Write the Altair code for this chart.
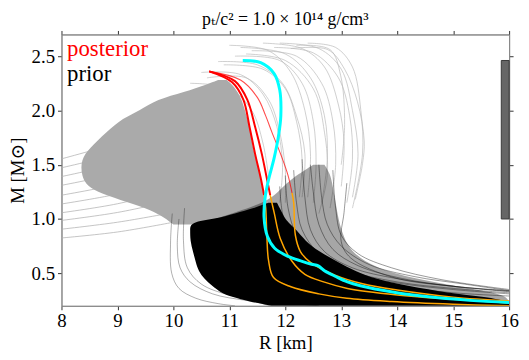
import altair as alt
import pandas as pd

FONT = "Liberation Serif, DejaVu Serif, Times New Roman, serif"
X_DOMAIN = [8, 16]
Y_DOMAIN = [0.2, 2.7]
X_TICKS = [8, 9, 10, 11, 12, 13, 14, 15, 16]
Y_TICKS = [0.5, 1.0, 1.5, 2.0, 2.5]

TITLE = "pₜ/c² = 1.0 × 10¹⁴ g/cm³"
X_TITLE = "R [km]"
Y_TITLE = "M [M⊙]"
LEGEND_TEXT = ["posterior", "prior"]
LEGEND_COLOR = ["#ff0000", "#000000"]
LEGEND_R = [8.1, 8.1]
LEGEND_M = [2.5, 2.27]

# mass band marker on right edge
BAND_R = [15.86, 16.0]
BAND_M = [1.0, 2.46]

# ---- prior envelopes (mass, left radius, right radius) ----
GRAY_M = [0.95, 1.1, 1.25, 1.4, 1.55, 1.65, 1.8, 1.93, 2.0, 2.1, 2.17, 2.24, 2.28]
GRAY_L = [10.0, 9.6, 8.5, 8.35, 8.35, 8.5, 8.8, 9.1, 9.4, 9.7, 10.2, 10.6, 10.8]
GRAY_H = [11.7, 11.65, 11.6, 11.55, 11.48, 11.42, 11.38, 11.32, 11.28, 11.22, 11.15, 11.05, 10.95]

STRAND_M = [0.2, 0.3, 0.36, 0.45, 0.55, 0.7, 0.9, 1.0, 1.15, 1.3, 1.42, 1.5]
STRAND_L = [11.7, 11.0, 10.75, 10.55, 10.45, 10.35, 10.3, 10.7, 11.7, 11.95, 12.25, 12.5]
STRAND_H = [16.0, 16.0, 15.3, 14.3, 13.6, 13.15, 13.0, 12.95, 12.9, 12.85, 12.8, 12.7]

BLACK_M = [0.2, 0.24, 0.28, 0.32, 0.38, 0.45, 0.52, 0.6, 0.7, 0.8, 0.9, 0.97, 1.0, 1.05, 1.1, 1.15]
BLACK_L = [11.75, 11.35, 11.05, 10.85, 10.7, 10.55, 10.45, 10.4, 10.35, 10.3, 10.3, 10.3, 10.75, 11.1, 11.45, 11.7]
BLACK_H = [16.0, 16.0, 15.6, 14.9, 14.2, 13.6, 13.25, 12.95, 12.6, 12.35, 12.2, 12.05, 12.0, 11.95, 11.9, 11.85]

# ---- individual prior curves ----
LEFT_LINES_R = [[7.9, 9.0, 10.0]] * 10
LEFT_LINES_M = [
    [0.82, 0.88, 0.97], [0.90, 0.97, 1.06], [0.98, 1.06, 1.17], [1.05, 1.14, 1.27],
    [1.13, 1.23, 1.37], [1.21, 1.32, 1.47], [1.30, 1.42, 1.58], [1.38, 1.51, 1.68],
    [1.46, 1.60, 1.78], [1.54, 1.70, 1.88],
]

ARCS_R = [
    [10.9, 11.6, 12.0, 12.2, 12.3, 12.25],
    [11.1, 11.9, 12.3, 12.5, 12.55, 12.5],
    [11.4, 12.2, 12.65, 12.85, 12.9, 12.8],
    [11.8, 12.5, 12.95, 13.15, 13.2, 13.1],
    [12.1, 12.76, 13.06, 13.29, 13.41, 13.38, 13.25],
    [12.2, 12.8, 12.99, 13.06, 13.0],
    [10.6, 11.3, 11.7, 11.9, 12.0, 12.0],
    [11.0, 11.7, 12.1, 12.35, 12.45, 12.4],
    [11.6, 12.3, 12.7, 12.95, 13.05, 13.0],
    [10.3, 11.0, 11.4, 11.6, 11.7],
    [10.8, 11.5, 11.95, 12.2, 12.35, 12.3],
    [11.2, 12.0, 12.45, 12.7, 12.75, 12.65],
    [11.9, 12.6, 13.0, 13.2, 13.3, 13.2],
    [10.5, 11.2, 11.6, 11.85, 11.95, 11.9],
    [11.3, 12.0, 12.5, 12.7, 12.75, 12.6],
    [12.4, 12.9, 13.2, 13.35, 13.38, 13.2],
]
ARCS_M = [
    [2.42, 2.38, 2.2, 1.9, 1.55, 1.2],
    [2.5, 2.46, 2.25, 1.9, 1.5, 1.15],
    [2.55, 2.5, 2.25, 1.9, 1.5, 1.1],
    [2.58, 2.53, 2.3, 1.95, 1.55, 1.15],
    [2.57, 2.56, 2.38, 2.08, 1.72, 1.51, 1.18],
    [2.6, 2.56, 2.32, 1.87, 1.5],
    [2.3, 2.3, 2.1, 1.8, 1.45, 1.15],
    [2.6, 2.55, 2.35, 2.0, 1.6, 1.2],
    [2.62, 2.57, 2.4, 2.05, 1.7, 1.3],
    [2.25, 2.2, 2.0, 1.7, 1.4],
    [2.45, 2.42, 2.25, 1.95, 1.6, 1.2],
    [2.58, 2.52, 2.3, 1.95, 1.55, 1.15],
    [2.62, 2.57, 2.38, 2.0, 1.6, 1.2],
    [2.35, 2.33, 2.15, 1.85, 1.5, 1.15],
    [2.52, 2.46, 2.2, 1.8, 1.4, 1.05],
    [2.62, 2.58, 2.4, 2.0, 1.6, 1.1],
]

LOWLEFT_R = [
    [9.98, 9.95, 9.97, 10.1, 10.4, 10.8, 11.1],
    [10.1, 10.07, 10.12, 10.3, 10.7, 11.3, 12.0],
    [10.2, 10.18, 10.25, 10.5, 11.0, 11.8, 12.6],
]
LOWLEFT_M = [
    [1.05, 0.8, 0.5, 0.36, 0.27, 0.22, 0.2],
    [1.0, 0.75, 0.55, 0.42, 0.31, 0.25, 0.21],
    [1.1, 0.8, 0.55, 0.4, 0.3, 0.24, 0.2],
]

STRANDS_R = [
    [12.3, 12.35, 12.45, 12.7, 13.2, 14.0, 15.0, 16.0],
    [12.6, 12.65, 12.75, 13.0, 13.5, 14.3, 15.2, 16.0],
    [12.0, 12.05, 12.2, 12.5, 13.0, 14.0, 15.0, 16.0],
    [12.85, 12.9, 13.0, 13.3, 13.9, 14.8, 16.0],
    [13.1, 13.05, 13.0, 13.17, 13.94, 15.0, 16.0],
    [11.9, 11.95, 12.1, 12.4, 13.0, 14.0, 15.0, 16.0],
    [12.45, 12.5, 12.6, 12.85, 13.3, 14.1, 15.0, 16.0],
    [12.15, 12.2, 12.3, 12.6, 13.1, 14.0, 15.0, 16.0],
]
STRANDS_M = [
    [1.55, 1.2, 0.9, 0.7, 0.55, 0.45, 0.38, 0.33],
    [1.5, 1.2, 0.95, 0.75, 0.58, 0.47, 0.4, 0.34],
    [1.4, 1.1, 0.85, 0.65, 0.52, 0.41, 0.35, 0.31],
    [1.45, 1.1, 0.85, 0.68, 0.55, 0.44, 0.35],
    [1.33, 1.06, 0.79, 0.64, 0.46, 0.38, 0.34],
    [1.3, 1.05, 0.8, 0.62, 0.48, 0.38, 0.32, 0.29],
    [1.5, 1.25, 0.95, 0.72, 0.57, 0.45, 0.38, 0.335],
    [1.45, 1.15, 0.9, 0.68, 0.53, 0.42, 0.36, 0.32],
]

# ---- posterior curves ----
P1_RED_R = [10.64, 11.05, 11.25, 11.36, 11.46, 11.56, 11.62]
P1_RED_M = [2.36, 2.26, 2.10, 1.85, 1.60, 1.38, 1.22]
P1_ORANGE_R = [11.62, 11.65, 11.67, 11.70, 11.79, 12.10, 12.60, 13.10, 13.90, 15.00, 16.00]
P1_ORANGE_M = [1.22, 1.10, 0.85, 0.62, 0.46, 0.375, 0.31, 0.27, 0.24, 0.215, 0.20]

P2_RED_R = [10.64, 11.10, 11.32, 11.46, 11.58, 11.66, 11.73]
P2_RED_M = [2.36, 2.27, 2.10, 1.85, 1.60, 1.40, 1.22]
P2_ORANGE_R = [11.73, 11.80, 11.91, 12.12, 12.35, 12.70, 13.11, 14.0, 15.0, 16.0]
P2_ORANGE_M = [1.22, 1.06, 0.82, 0.61, 0.49, 0.418, 0.36, 0.30, 0.26, 0.225]

P3_RED_R = [10.64, 11.20, 11.50, 11.65, 11.76, 11.93, 12.05, 12.12]
P3_RED_M = [2.36, 2.28, 2.12, 1.95, 1.80, 1.58, 1.40, 1.24]
P3_ORANGE_R = [12.12, 12.15, 12.18, 12.27, 12.45, 12.90, 13.40, 14.0, 15.0, 16.0]
P3_ORANGE_M = [1.24, 1.15, 0.85, 0.70, 0.60, 0.48, 0.40, 0.345, 0.28, 0.245]

CYAN_R = [11.24, 11.56, 11.80, 11.90, 11.92, 11.88, 11.80, 11.70, 11.64, 11.62, 11.68,
          11.81, 12.05, 12.30, 12.47, 12.59, 12.70, 12.90, 13.11, 13.34, 13.94, 14.52, 15.30, 16.0]
CYAN_M = [2.46, 2.44, 2.34, 2.19, 1.95, 1.77, 1.56, 1.36, 1.20, 1.02, 0.84,
          0.73, 0.655, 0.61, 0.583, 0.568, 0.523, 0.47, 0.42, 0.385, 0.325, 0.285, 0.25, 0.23]

xs = alt.Scale(domain=X_DOMAIN, nice=False, zero=False)
ys = alt.Scale(domain=Y_DOMAIN, nice=False, zero=False)


def curves_df(list_r, list_m):
    rows = []
    for k, (rr, mm) in enumerate(zip(list_r, list_m)):
        for i, (r, m) in enumerate(zip(rr, mm)):
            rows.append({"id": k, "i": i, "R": r, "M": m})
    return pd.DataFrame(rows)


def line_layer(list_r, list_m, color, width, opacity=1.0):
    return alt.Chart(curves_df(list_r, list_m)).mark_line(
        color=color, strokeWidth=width, opacity=opacity,
        interpolate="catmull-rom", clip=True
    ).encode(
        x=alt.X("R:Q", scale=xs, axis=None),
        y=alt.Y("M:Q", scale=ys, axis=None),
        detail="id:N",
        order="i:Q",
    )


def area_layer(ms, lo, hi, color, opacity=1.0):
    df = pd.DataFrame({"M": ms, "R1": lo, "R2": hi})
    return alt.Chart(df).mark_area(
        orient="horizontal", color=color, opacity=opacity,
        interpolate="basis", clip=True
    ).encode(
        y=alt.Y("M:Q", scale=ys, axis=None),
        x=alt.X("R1:Q", scale=xs, axis=None),
        x2="R2:Q",
    )


axis_style = dict(
    labelFont=FONT, labelFontSize=19, labelColor="black", labelFlush=False,
    titleFont=FONT, titleFontSize=19, titleFontWeight="normal", titleColor="black",
    domainColor="#888888", tickColor="#333333", tickSize=4, grid=False,
)

band_df = pd.DataFrame({"R1": [BAND_R[0]], "R2": [BAND_R[1]], "M1": [BAND_M[0]], "M2": [BAND_M[1]]})

band = alt.Chart(band_df).mark_rect(color="#666666", stroke="#3a3a3a", strokeWidth=1).encode(
    x=alt.X("R1:Q", scale=xs, axis=alt.Axis(values=X_TICKS, format="d", title=X_TITLE,
                                            orient="bottom", labelPadding=2, titlePadding=3, **axis_style)),
    x2="R2:Q",
    y=alt.Y("M1:Q", scale=ys, axis=alt.Axis(values=Y_TICKS, format=".1f", title=Y_TITLE,
                                            orient="left", labelPadding=3, titlePadding=4, **axis_style)),
    y2="M2:Q",
)

frame = alt.Chart(band_df).mark_rect(opacity=0).encode(
    x=alt.X("R1:Q", scale=xs, axis=alt.Axis(values=X_TICKS, orient="top", labels=False, title=None,
                                            **axis_style)),
    x2="R2:Q",
    y=alt.Y("M1:Q", scale=ys, axis=alt.Axis(values=Y_TICKS, orient="right", labels=False, title=None,
                                            **axis_style)),
    y2="M2:Q",
)

legend_df = pd.DataFrame({"t": LEGEND_TEXT, "c": LEGEND_COLOR, "R": LEGEND_R, "M": LEGEND_M})
legend = alt.Chart(legend_df).mark_text(
    align="left", baseline="alphabetic", font=FONT, fontSize=23
).encode(
    x=alt.X("R:Q", scale=xs, axis=None),
    y=alt.Y("M:Q", scale=ys, axis=None),
    text="t:N",
    color=alt.Color("c:N", scale=None),
)

layers = [
    line_layer(LEFT_LINES_R, LEFT_LINES_M, "#b0b0b0", 1.0, 0.75),
    line_layer(ARCS_R, ARCS_M, "#b8b8b8", 0.9, 0.75),
    area_layer(GRAY_M, GRAY_L, GRAY_H, "#aaaaaa"),
    line_layer(LOWLEFT_R, LOWLEFT_M, "#000000", 0.9, 0.35),
    area_layer(STRAND_M, STRAND_L, STRAND_H, "#000000", 0.35),
    line_layer(STRANDS_R, STRANDS_M, "#000000", 0.8, 0.5),
    area_layer(BLACK_M, BLACK_L, BLACK_H, "#000000"),
    line_layer([P1_ORANGE_R, P2_ORANGE_R, P3_ORANGE_R], [P1_ORANGE_M, P2_ORANGE_M, P3_ORANGE_M], "#ffa500", 1.5),
    line_layer([P1_RED_R, P2_RED_R], [P1_RED_M, P2_RED_M], "#ff0000", 2.0),
    line_layer([P3_RED_R], [P3_RED_M], "#ff0000", 1.1, 0.7),
    line_layer([CYAN_R], [CYAN_M], "#00ffff", 3.0),
    band,
    frame,
    legend,
]

chart = alt.layer(*layers).resolve_axis(x="independent", y="independent").properties(
    width=452,
    height=274,
    autosize=alt.AutoSizeParams(type="none"),
    padding={"left": 54, "top": 25, "right": 12, "bottom": 51},
    title=alt.TitleParams(text=TITLE, font=FONT, fontSize=18, fontWeight="normal",
                          color="black", anchor="middle", offset=1),
).configure_view(stroke="#888888")

chart.save("out.html", embed_options={"renderer": "svg", "actions": False})
